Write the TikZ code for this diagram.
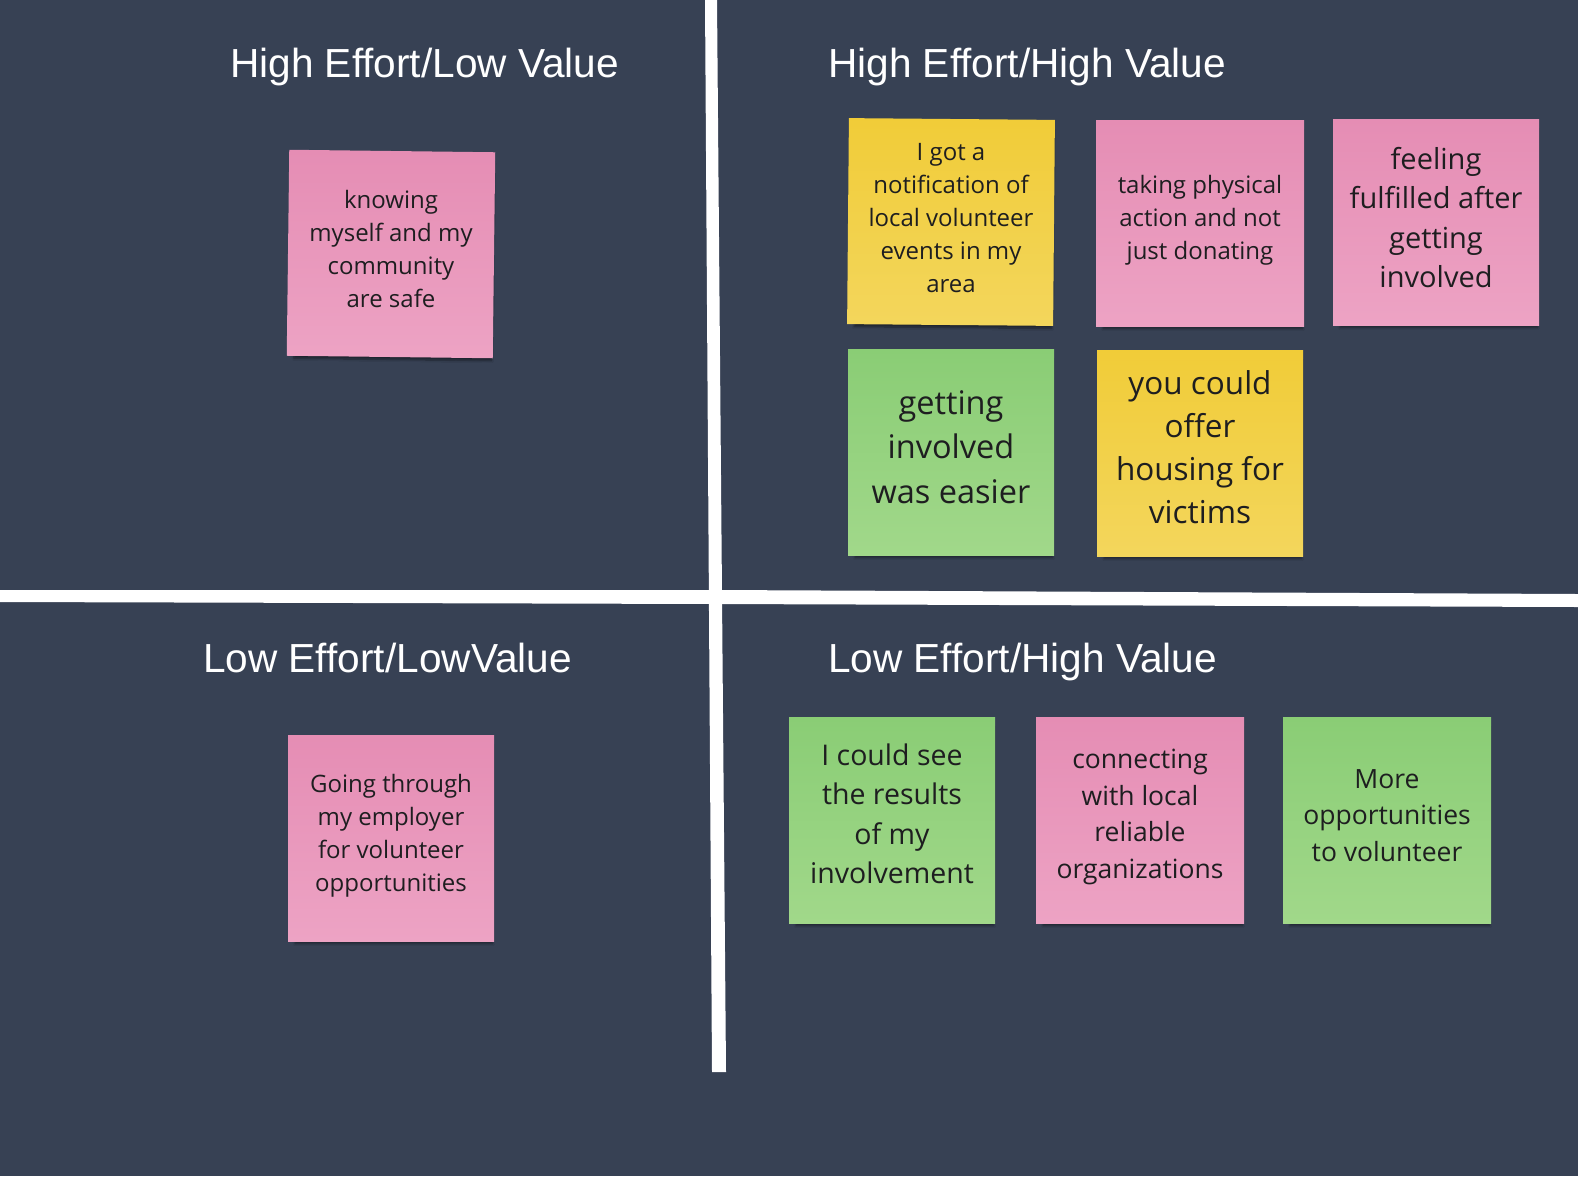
\documentclass[tikz,border=0pt]{standalone}
\usepackage{fontspec}
\setmainfont{Open Sans}
\newfontfamily\titlefont{Liberation Sans}
\usetikzlibrary{shadows.blur}

\definecolor{board}{RGB}{55,65,84}
\definecolor{pinkA}{RGB}{229,141,180}
\definecolor{pinkB}{RGB}{237,163,196}
\definecolor{yelA}{RGB}{241,204,56}
\definecolor{yelB}{RGB}{243,214,92}
\definecolor{grnA}{RGB}{138,205,117}
\definecolor{grnB}{RGB}{161,216,138}
\definecolor{ink}{RGB}{30,30,32}

\tikzset{
  note/.style={minimum width=206pt, minimum height=206pt, inner sep=0pt,
    blur shadow={shadow xshift=3pt, shadow yshift=-7pt, shadow blur steps=8,
      shadow opacity=45, shadow scale=0.96}},
  pinknote/.style={note, top color=pinkA, bottom color=pinkB},
  yellownote/.style={note, top color=yelA, bottom color=yelB},
  greennote/.style={note, top color=grnA, bottom color=grnB},
  notetext/.style={align=center, text=ink, inner sep=0pt},
  quadtitle/.style={anchor=base west, text=white, inner sep=0pt,
    font=\titlefont\fontsize{40.6}{48}\selectfont},
}

\begin{document}
\begin{tikzpicture}[x=1pt, y=-1pt]
  % board
  \fill[board] (0,0) rectangle (1578,1176);
  \useasboundingbox (0,0) rectangle (1578,1176);

  % quadrant dividers
  \fill[white] (705,0) -- (717,0) -- (726,1072) -- (712,1072) -- cycle;
  \fill[white] (0,590) -- (716,590) -- (1578,594) -- (1578,607) -- (716,604) -- (0,602) -- cycle;

  % quadrant titles
  \node[quadtitle] (tHL) at (230,77) {High Effort/Low Value};
  \node[quadtitle] (tHH) at (828,77) {High Effort/High Value};
  \node[quadtitle] (tLL) at (203,672) {Low Effort/LowValue};
  \node[quadtitle] (tLH) at (828,672) {Low Effort/High Value};

  % high effort / low value
  \node[pinknote, rotate=-0.7] (safe) at (391,254) {};
  \node[notetext, font=\fontsize{24}{33}\selectfont] (safe-t) at ([yshift=5pt]safe.center)
    {knowing\\myself and my\\community\\are safe};

  % high effort / high value
  \node[yellownote, rotate=-0.5] (notif) at (951,222) {};
  \node[notetext, font=\fontsize{24}{33}\selectfont] (notif-t) at ([yshift=4pt]notif.center)
    {I got a\\notification of\\local volunteer\\events in my\\area};

  \node[pinknote, minimum width=208pt] (phys) at (1200,223) {};
  \node[notetext, font=\fontsize{24}{33}\selectfont] (phys-t) at ([yshift=3pt]phys.center)
    {taking physical\\action and not\\just donating};

  \node[pinknote] (fulfil) at (1436,222) {};
  \node[notetext, font=\fontsize{29}{39.5}\selectfont] (fulfil-t) at ([yshift=4.5pt]fulfil.center)
    {feeling\\fulfilled after\\getting\\involved};

  \node[greennote] (easier) at (951,452) {};
  \node[notetext, font=\fontsize{32.5}{44.5}\selectfont] (easier-t) at ([yshift=5pt]easier.center)
    {getting\\involved\\was easier};

  \node[yellownote] (housing) at (1200,453) {};
  \node[notetext, font=\fontsize{31.5}{43}\selectfont] (housing-t) at ([yshift=6pt]housing.center)
    {you could\\offer\\housing for\\victims};

  % low effort / low value
  \node[pinknote] (employer) at (391,838) {};
  \node[notetext, font=\fontsize{24}{33}\selectfont] (employer-t) at ([yshift=2pt]employer.center)
    {Going through\\my employer\\for volunteer\\opportunities};

  % low effort / high value
  \node[greennote] (results) at (892,820) {};
  \node[notetext, font=\fontsize{28.5}{39.5}\selectfont] (results-t) at ([yshift=6pt]results.center)
    {I could see\\the results\\of my\\involvement};

  \node[pinknote, minimum width=208pt] (orgs) at (1140,820) {};
  \node[notetext, font=\fontsize{26.5}{36.5}\selectfont] (orgs-t) at ([yshift=3pt]orgs.center)
    {connecting\\with local\\reliable\\organizations};

  \node[greennote, minimum width=208pt] (more) at (1387,820) {};
  \node[notetext, font=\fontsize{26.5}{36.5}\selectfont] (more-t) at ([yshift=4.5pt]more.center)
    {More\\opportunities\\to volunteer};
\end{tikzpicture}
\end{document}
